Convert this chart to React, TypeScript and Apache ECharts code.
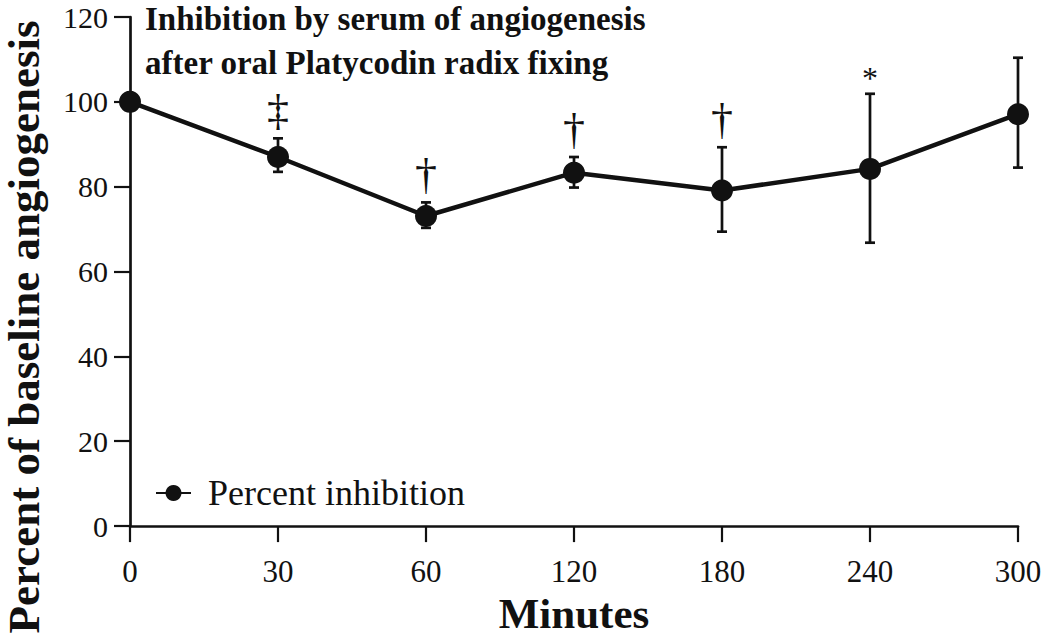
import React, { useEffect, useRef } from "react";
import * as echarts from "echarts";

const categories = ["0", "30", "60", "120", "180", "240", "300"];
const meanValues = [100, 87, 73.1, 83.3, 79.1, 84.2, 97.1];
const errLow = [100, 83.5, 70.3, 79.8, 69.4, 66.8, 84.5];
const errHigh = [100, 91.4, 76.3, 87, 89.3, 101.9, 110.4];
const sigMarks = ["", "‡", "†", "†", "†", "*", ""];
const yTicks = [0, 20, 40, 60, 80, 100, 120];
const titleLines = ["Inhibition by serum of angiogenesis", "after oral Platycodin radix fixing"];

const FONT = "'Liberation Serif', 'DejaVu Serif', serif";

export default function App() {
  const ref = useRef<HTMLDivElement>(null);
  useEffect(() => {
    const chart = echarts.init(ref.current!, null, { renderer: "svg" });
    const errData = categories.map((_, i) => [i, errLow[i], errHigh[i]]);
    const titleStyle = {
      fontFamily: FONT,
      fontWeight: "bold",
      fontSize: 33,
      lineHeight: 34,
      color: "#111",
    };
    chart.setOption({
      animation: false,
      backgroundColor: "#ffffff",
      title: [
        { text: titleLines[0], left: 145, top: 2, padding: 0, textStyle: titleStyle },
        { text: titleLines[1], left: 145, top: 46, padding: 0, textStyle: titleStyle },
      ],
      legend: {
        left: 150,
        top: 470,
        itemWidth: 35,
        itemHeight: 20,
        textStyle: { fontFamily: FONT, fontSize: 36, color: "#111", padding: [0, 0, 0, 12] },
        data: ["Percent inhibition"],
      },
      graphic: [
        {
          type: "text",
          x: 24,
          y: 327,
          rotation: Math.PI / 2,
          style: {
            text: "Percent of baseline angiogenesis",
            textAlign: "center",
            textVerticalAlign: "middle",
            fontFamily: FONT,
            fontWeight: "bold",
            fontSize: 45,
            fill: "#111",
          },
        },
      ],
      grid: { left: 130, right: 32, top: 17, bottom: 108, containLabel: false },
      xAxis: {
        type: "category",
        data: categories,
        boundaryGap: false,
        name: "Minutes",
        nameLocation: "middle",
        nameGap: 65,
        nameTextStyle: { fontFamily: FONT, fontWeight: "bold", fontSize: 43, color: "#111" },
        axisLine: { lineStyle: { color: "#111", width: 2.7 } },
        axisTick: { show: true, length: 16, alignWithLabel: true, lineStyle: { color: "#111", width: 2.2 } },
        axisLabel: { fontFamily: FONT, fontSize: 31, color: "#111", margin: 30 },
        splitLine: { show: false },
      },
      yAxis: {
        type: "value",
        min: 0,
        max: 120,
        interval: 20,
        axisLine: { show: true, lineStyle: { color: "#111", width: 2.7 } },
        axisTick: { show: true, length: 16, lineStyle: { color: "#111", width: 2.2 } },
        axisLabel: {
          fontFamily: FONT,
          fontSize: 30,
          lineHeight: 26,
          color: "#111",
          margin: 22,
          formatter: (v: number) => (yTicks.includes(v) ? String(v) : ""),
        },
        splitLine: { show: false },
      },
      series: [
        {
          type: "custom",
          name: "errors",
          data: errData,
          z: 1,
          renderItem: (params: any, api: any) => {
            const i = api.value(0);
            const lo = api.coord([i, api.value(1)]);
            const hi = api.coord([i, api.value(2)]);
            const mark = sigMarks[params.dataIndex];
            const cw = 5;
            const style = { stroke: "#111", lineWidth: 2.7 };
            const children: any[] = [
              { type: "line", shape: { x1: lo[0], y1: lo[1], x2: hi[0], y2: hi[1] }, style },
              { type: "line", shape: { x1: lo[0] - cw, y1: lo[1], x2: lo[0] + cw, y2: lo[1] }, style },
              { type: "line", shape: { x1: hi[0] - cw, y1: hi[1], x2: hi[0] + cw, y2: hi[1] }, style },
            ];
            if (mark) {
              const star = mark === "*";
              children.push({
                type: "text",
                style: {
                  text: mark,
                  x: hi[0],
                  y: hi[1] - (star ? 0 : 6),
                  textAlign: "center",
                  textVerticalAlign: "bottom",
                  fontFamily: FONT,
                  fontSize: star ? 32 : 44,
                  fill: "#111",
                },
              });
            }
            return { type: "group", children };
          },
        },
        {
          type: "line",
          name: "Percent inhibition",
          data: meanValues,
          z: 3,
          symbol: "circle",
          symbolSize: 22,
          lineStyle: { color: "#111", width: 4.5 },
          itemStyle: { color: "#111" },
        },
      ],
    });
    return () => chart.dispose();
  }, []);
  return <div ref={ref} style={{ width: 1050, height: 640, position: "absolute", left: 0, top: 0 }} />;
}
